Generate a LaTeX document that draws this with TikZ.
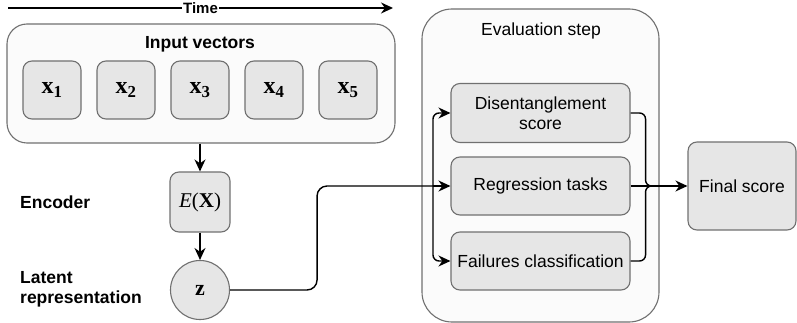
\documentclass[tikz,border=0pt]{standalone}
\usepackage[no-math]{fontspec}
\setmainfont{Liberation Sans}
\newfontfamily\serifmath{Liberation Serif}
\usetikzlibrary{arrows.meta}
\definecolor{boxfill}{HTML}{E6E6E6}
\definecolor{boxline}{HTML}{707070}
\definecolor{panelfill}{HTML}{FBFBFB}
\newcommand{\figfont}{\fontsize{17.5}{20}\selectfont}
\newcommand{\timefont}{\fontsize{15}{17}\selectfont}
\newcommand{\vecfont}{\serifmath\fontsize{24}{28}\selectfont}
\newcommand{\xvec}[1]{\textbf{x}\textsubscript{\textbf{#1}}}

\begin{document}
\begin{tikzpicture}[x=1pt, y=-1pt, font=\figfont,
  box/.style={draw=boxline, fill=boxfill, line width=1.1pt, rounded corners=9pt},
  panel/.style={draw=boxline, fill=panelfill, line width=1.1pt, rounded corners=20pt},
  wire/.style={line width=1.4pt},
  arr/.style={wire, -{Stealth[length=12pt, width=11pt]}}]
\useasboundingbox (0,0) rectangle (797,323);

% time axis
\coordinate (t0) at (8,8);
\coordinate (t1) at (393,8);
\draw[arr] (t0) -- (t1) node[midway, fill=white, inner sep=1pt, font=\timefont\bfseries] {Time};

% input vectors
\node (inp)[panel, minimum width=388, minimum height=119] at (201,83.5) {};
\node (inptitle)[font=\figfont\bfseries] at (200,44) {Input vectors};
\node (x1)[box, minimum size=58, font=\vecfont] at (52,90) {\xvec{1}};
\node (x2)[box, minimum size=58, font=\vecfont] at (126,90) {\xvec{2}};
\node (x3)[box, minimum size=58, font=\vecfont] at (200,90) {\xvec{3}};
\node (x4)[box, minimum size=58, font=\vecfont] at (274,90) {\xvec{4}};
\node (x5)[box, minimum size=58, font=\vecfont] at (348,90) {\xvec{5}};

% encoder and latent code
\node (enc)[box, minimum size=60, font=\serifmath\fontsize{21}{24}\selectfont] at (200,202) {\textit{E}(\textbf{X})};
\node (z)[circle, draw=boxline, fill=boxfill, line width=1.1pt, minimum size=59, font=\serifmath\fontsize{22}{24}\selectfont] at (200,290) {\textbf{z}};
\draw[arr] (enc |- inp.south) -- (enc);
\draw[arr] (enc) -- (z);
\node (enclbl)[anchor=west, inner sep=0, font=\figfont\bfseries] at (20,202) {Encoder};
\node (latlbl)[anchor=west, inner sep=0, align=left, font=\figfont\bfseries] at (20,289) {Latent\\representation};

% evaluation
\node (eval)[panel, rounded corners=30pt, minimum width=237, minimum height=313] at (540.5,165.5) {};
\node (evaltitle) at (541,31) {Evaluation step};
\node (dis)[box, minimum width=179, minimum height=59, inner sep=2pt, align=center] at (540.5,113) {Disentanglement\\score};
\node (reg)[box, minimum width=179, minimum height=58, inner sep=2pt] at (540.5,186) {Regression tasks};
\node (fail)[box, minimum width=179, minimum height=58, inner sep=2pt] at (540.5,261) {Failures classification};
\node (final)[box, minimum width=108, minimum height=88] at (742,186) {Final score};

\coordinate (split) at (433,186);
\coordinate (merge) at (655,186);
\draw[wire, rounded corners=10pt] (z.east) -- ++(87,0) |- (split);
\draw[arr, rounded corners=6pt] (split) |- (dis.west);
\draw[arr] (split) -- (reg.west);
\draw[arr, rounded corners=6pt] (split) |- (fail.west);
\draw[wire, rounded corners=6pt] (dis.east) -- ++(15,0) |- (merge);
\draw[wire] (reg.east) -- (merge);
\draw[wire, rounded corners=6pt] (fail.east) -- ++(15,0) |- (merge);
\draw[arr] (merge) -- (final);
\end{tikzpicture}
\end{document}
